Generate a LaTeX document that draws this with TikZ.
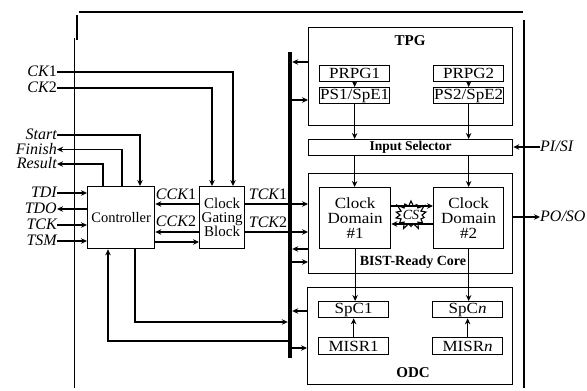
\documentclass[tikz,border=0pt]{standalone}
\usepackage{fontspec}
\setmainfont{Liberation Serif}
\newfontfamily\widefont[FakeStretch=1.1]{Liberation Serif}
\usetikzlibrary{arrows.meta,shapes.symbols}
\tikzset{
  ln/.style={line width=1.2pt},
  arr/.style={ln,-{Stealth[length=6pt,width=5.5pt]}},
  box/.style={draw,line width=1.3pt,inner sep=0pt,anchor=north west,align=center,font=\widefont\fontsize{15.5}{15}\selectfont},
  lab/.style={inner sep=0pt,text height=10.5pt,text depth=1.5pt,font=\fontsize{16}{16}\selectfont\itshape},
  ttl/.style={inner sep=0pt,font=\fontsize{14}{14}\selectfont\bfseries},
}
\begin{document}
\begin{tikzpicture}[x=1pt,y=-1pt]
\useasboundingbox (0,0) rectangle (587,391);
% outer frame
\draw[line width=1.2pt] (79,12) -- (523,12);
\draw[line width=2pt] (77,15) -- (77,40);
\draw[line width=1pt] (74,38) -- (74,388);
\draw[line width=1.2pt] (524,20) -- (524,388);
% bus
\node[fill,minimum width=4pt,minimum height=306pt,inner sep=0pt,anchor=north] (bus) at (290,52) {};
% TPG
\node[box,minimum width=204pt,minimum height=98pt] (tpg) at (308,27) {};
\node[ttl,font=\fontsize{15}{15}\selectfont\bfseries] (tpgt) at (410,41) {TPG};
\node[box,minimum width=70pt,minimum height=16pt] (prpg1) at (319,65) {PRPG1};
\node[box,minimum width=70pt,minimum height=16pt] (prpg2) at (433,65) {PRPG2};
\node[box,minimum width=70pt,minimum height=16pt] (ps1) at (319,87) {PS1/SpE1};
\node[box,minimum width=70pt,minimum height=16pt] (ps2) at (433,87) {PS2/SpE2};
\node[box,minimum width=204pt,minimum height=16pt,font=\fontsize{13.5}{13}\selectfont\bfseries] (insel) at (308,139) {Input Selector};
% core
\node[box,minimum width=204pt,minimum height=100pt] (core) at (308,173) {};
\node[ttl] (coret) at (413,262) {BIST-Ready Core};
\node[box,minimum width=71pt,minimum height=61pt] (cd1) at (319,187) {Clock\\Domain\\\#1};
\node[box,minimum width=70pt,minimum height=61pt] (cd2) at (433,187) {Clock\\Domain\\\#2};
% ODC
\node[box,minimum width=205pt,minimum height=97pt] (odc) at (307,287) {};
\node[ttl,font=\fontsize{15}{15}\selectfont\bfseries] (odct) at (413,373) {ODC};
\node[box,minimum width=70pt,minimum height=16pt] (spc1) at (318,301) {SpC1};
\node[box,minimum width=70pt,minimum height=16pt] (spcn) at (432,301) {SpC\textit{n}};
\node[box,minimum width=70pt,minimum height=17pt] (misr1) at (318,337) {MISR1};
\node[box,minimum width=70pt,minimum height=17pt] (misrn) at (432,337) {MISR\textit{n}};
% controller and clock gating
\node[box,minimum width=67pt,minimum height=62pt,font=\fontsize{14.5}{14}\selectfont] (ctrl) at (87,186) {Controller};
\node[box,minimum width=45pt,minimum height=62pt,font=\fontsize{15}{14}\selectfont] (cgb) at (199,186) {Clock\\Gating\\Block};
% left labels
\node[lab,anchor=east] (ck1) at (57,72) {\textit{CK}\upshape 1};
\node[lab,anchor=east] (ck2) at (57,88) {\textit{CK}\upshape 2};
\node[lab,anchor=east] (start) at (57,135) {Start};
\node[lab,anchor=east] (finish) at (57,149.5) {Finish};
\node[lab,anchor=east] (result) at (57,164) {Result};
\node[lab,anchor=east] (tdi) at (57,193) {TDI};
\node[lab,anchor=east] (tdo) at (57,209) {TDO};
\node[lab,anchor=east] (tck) at (57,225) {TCK};
\node[lab,anchor=east] (tsm) at (57,241) {TSM};
\node[lab] (cck1) at (176,195) {\textit{CCK}\upshape 1};
\node[lab] (cck2) at (176,222) {\textit{CCK}\upshape 2};
\node[lab] (tck1) at (268,195) {\textit{TCK}\upshape 1};
\node[lab] (tck2) at (268,223) {\textit{TCK}\upshape 2};
\node[lab,anchor=west] (pisi) at (540,147) {PI/SI};
\node[lab,anchor=west] (poso) at (540,217) {PO/SO};
% left connectors
\draw[arr] (ck1.east) -| (233,0 |- cgb.north);
\draw[arr] (ck2.east) -| (212,0 |- cgb.north);
\draw[arr] (start.east) -| (140,0 |- ctrl.north);
\draw[arr] (122,0 |- ctrl.north) |- (finish.east);
\draw[arr] (103,0 |- ctrl.north) |- (result.east);
\draw[arr] (tdi.east) -- (ctrl.west |- tdi.east);
\draw[arr] (ctrl.west |- tdo.east) -- (tdo.east);
\draw[arr] (tck.east) -- (ctrl.west |- tck.east);
\draw[arr] (tsm.east) -- (ctrl.west |- tsm.east);
\draw[arr] (cgb.west |- 0,204) -- (ctrl.east |- 0,204);
\draw[arr] (cgb.west |- 0,232) -- (ctrl.east |- 0,232);
\draw[arr] (ctrl.east |- 0,242) -- (cgb.west |- 0,242);
\draw[ln] (cgb.east |- 0,204) -- (bus.west |- 0,204);
\draw[ln] (cgb.east |- 0,232) -- (bus.west |- 0,232);
\draw[arr] (135,0 |- ctrl.south) |- (bus.west |- 0,322);
\draw[arr] (bus.west |- 0,341) -| (108,0 |- ctrl.south);
% bus to blocks
\draw[arr] (tpg.west |- 0,62) -- (bus.east |- 0,62);
\draw[arr] (bus.east |- 0,100) -- (tpg.west |- 0,100);
\draw[arr] (bus.east |- 0,204) -- (core.west |- 0,204);
\draw[arr] (bus.east |- 0,232) -- (core.west |- 0,232);
\draw[arr] (core.west |- 0,249) -- (bus.east |- 0,249);
\draw[arr] (bus.east |- 0,262) -- (core.west |- 0,262);
\draw[arr] (odc.west |- 0,311) -- (bus.east |- 0,311);
\draw[arr] (bus.east |- 0,348) -- (odc.west |- 0,348);
% data path
\draw[arr] (prpg1.south) -- (ps1.north);
\draw[arr] (prpg2.south) -- (ps2.north);
\draw[arr] (ps1.south) -- (ps1.south |- insel.north);
\draw[arr] (ps2.south) -- (ps2.south |- insel.north);
\draw[arr] (ps1.south |- insel.south) -- (ps1.south |- cd1.north);
\draw[arr] (ps2.south |- insel.south) -- (ps2.south |- cd2.north);
\draw[arr] (cd1.south) -- (cd1.south |- spc1.north);
\draw[arr] (cd2.south) -- (cd2.south |- spcn.north);
\draw[arr] (misr1.north) -- (spc1.south);
\draw[arr] (misrn.north) -- (spcn.south);
\draw[arr] (pisi.west) -- (insel.east |- pisi.west);
\draw[arr] (core.east |- poso.west) -- (poso.west);
% CS
\node[starburst,draw,fill=white,line width=1.1pt,starburst points=14,starburst point height=7pt,minimum width=36pt,minimum height=32pt,inner sep=0pt] (cs) at (411,215) {};
\draw[arr] (cd1.east |- 0,206) -- (cd2.west |- 0,206);
\draw[arr] (cd2.west |- 0,224) -- (cd1.east |- 0,224);
\node[inner sep=0pt,font=\fontsize{14}{14}\selectfont\itshape] (cst) at (411,215) {CS};
\end{tikzpicture}
\end{document}
